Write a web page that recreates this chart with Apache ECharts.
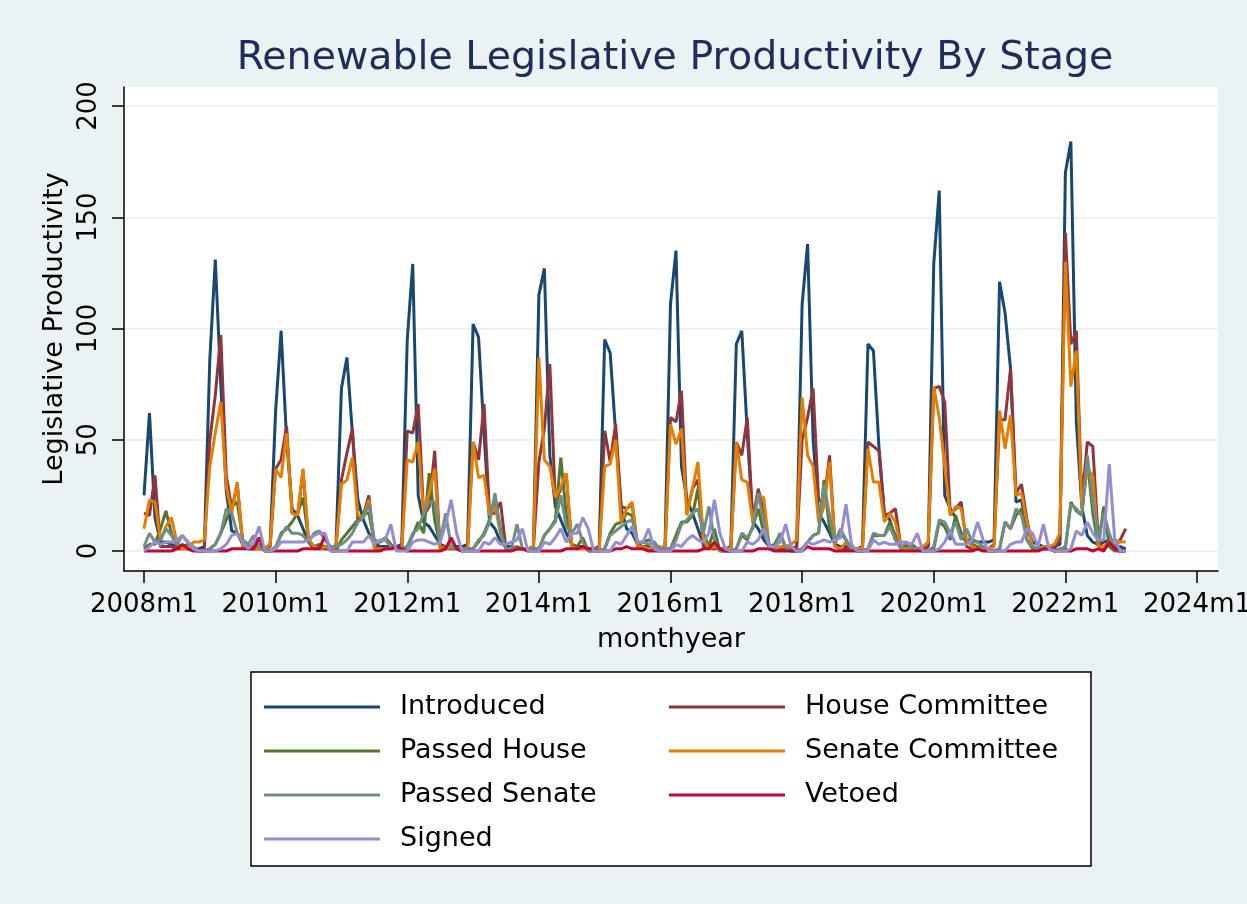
<!DOCTYPE html>
<html>
<head>
<meta charset="utf-8">
<title>Renewable Legislative Productivity By Stage</title>
<script src="https://cdn.jsdelivr.net/npm/echarts@6/dist/echarts.min.js"></script>
<style>
  html, body { margin: 0; padding: 0; background: #eaf2f3; }
  #chart { width: 1247px; height: 904px; }
</style>
</head>
<body>
<div id="chart"></div>
<script>
// Monthly counts, 2008m1 .. 2022m12 (12 values per row = one year)
const xTickValues = [0, 24, 48, 72, 96, 120, 144, 168, 192];   // months since 2008m1
const xTickLabels = ['2008m1', '2010m1', '2012m1', '2014m1', '2016m1', '2018m1', '2020m1', '2022m1', '2024m1'];
const yTickValues = [0, 50, 100, 150, 200];

const introduced = [
  25, 62, 15, 4, 4, 3, 2, 2, 1, 1, 1, 2,
  86, 131, 75, 27, 9, 8, 3, 1, 1, 1, 1, 3,
  63, 99, 50, 19, 16, 10, 4, 2, 2, 1, 1, 2,
  73, 87, 53, 23, 14, 8, 4, 2, 2, 2, 2, 3,
  95, 129, 25, 13, 11, 7, 3, 2, 2, 2, 2, 3,
  102, 96, 53, 13, 10, 4, 2, 2, 1, 1, 1, 2,
  115, 127, 43, 20, 14, 8, 3, 2, 2, 1, 1, 2,
  95, 89, 53, 19, 10, 8, 3, 2, 2, 1, 1, 2,
  111, 135, 38, 23, 17, 10, 3, 2, 2, 1, 1, 2,
  93, 99, 53, 13, 10, 5, 2, 2, 1, 1, 1, 2,
  111, 138, 50, 17, 13, 8, 3, 2, 2, 1, 1, 2,
  93, 90, 47, 17, 14, 5, 2, 2, 1, 1, 1, 2,
  129, 162, 25, 19, 15, 8, 5, 5, 4, 4, 4, 5,
  121, 107, 82, 22, 23, 10, 4, 3, 2, 2, 2, 3,
  170, 184, 58, 20, 7, 4, 3, 4, 5, 2, 2, 1
];

const houseCommittee = [
  17, 16, 34, 2, 2, 2, 1, 1, 1, 1, 0, 1,
  50, 70, 97, 34, 19, 30, 4, 1, 1, 1, 1, 2,
  37, 41, 56, 17, 16, 36, 4, 1, 1, 1, 1, 1,
  32, 44, 55, 14, 16, 25, 2, 1, 1, 2, 2, 1,
  54, 53, 66, 16, 20, 45, 1, 1, 1, 1, 1, 1,
  49, 41, 66, 17, 17, 22, 1, 1, 1, 1, 1, 1,
  40, 55, 84, 22, 28, 34, 2, 1, 1, 1, 1, 1,
  54, 40, 57, 20, 19, 21, 2, 1, 1, 1, 1, 1,
  60, 58, 72, 17, 28, 32, 2, 1, 1, 1, 1, 1,
  49, 43, 60, 14, 28, 17, 2, 1, 1, 1, 1, 1,
  50, 60, 73, 23, 22, 43, 2, 1, 1, 1, 1, 1,
  49, 47, 45, 16, 17, 19, 2, 1, 1, 1, 1, 2,
  73, 74, 67, 17, 19, 22, 2, 1, 1, 1, 1, 3,
  59, 59, 82, 26, 30, 14, 2, 1, 1, 1, 1, 5,
  143, 93, 99, 22, 49, 47, 5, 1, 5, 2, 5, 10
];

const passedHouse = [
  1, 3, 3, 10, 18, 8, 2, 2, 3, 1, 0, 0,
  1, 3, 8, 14, 20, 22, 5, 2, 2, 3, 1, 0,
  1, 8, 10, 13, 17, 24, 5, 2, 3, 2, 1, 0,
  5, 8, 11, 14, 17, 17, 4, 4, 6, 3, 1, 1,
  2, 7, 13, 8, 35, 14, 2, 2, 1, 1, 1, 1,
  1, 4, 8, 14, 24, 10, 1, 1, 2, 1, 1, 1,
  1, 7, 10, 14, 42, 16, 3, 2, 6, 0, 0, 0,
  1, 8, 12, 13, 17, 16, 3, 4, 5, 4, 1, 1,
  1, 7, 13, 13, 16, 28, 8, 2, 10, 0, 0, 0,
  1, 7, 5, 11, 19, 8, 2, 3, 8, 1, 0, 0,
  1, 4, 7, 8, 32, 10, 4, 8, 5, 1, 0, 0,
  1, 7, 7, 7, 13, 7, 1, 1, 3, 1, 0, 0,
  1, 13, 11, 5, 16, 7, 4, 3, 2, 1, 0, 0,
  1, 13, 10, 16, 19, 5, 1, 1, 1, 1, 0, 1,
  1, 22, 18, 16, 41, 17, 2, 20, 2, 0, 0, 0
];

const senateCommittee = [
  10, 23, 22, 5, 11, 15, 4, 1, 1, 4, 4, 5,
  38, 53, 67, 29, 17, 31, 2, 1, 1, 1, 1, 3,
  37, 33, 53, 17, 16, 37, 5, 2, 1, 2, 1, 2,
  30, 32, 42, 16, 15, 23, 1, 1, 1, 1, 1, 1,
  41, 40, 49, 16, 26, 37, 1, 1, 2, 1, 1, 1,
  49, 33, 34, 16, 20, 8, 1, 1, 1, 1, 1, 2,
  87, 41, 38, 24, 29, 35, 2, 1, 1, 1, 1, 1,
  38, 39, 50, 13, 19, 22, 2, 2, 1, 2, 2, 1,
  57, 48, 55, 16, 28, 40, 5, 1, 2, 1, 1, 1,
  49, 32, 31, 13, 25, 24, 2, 1, 2, 2, 3, 5,
  69, 43, 38, 13, 20, 40, 2, 1, 4, 1, 1, 1,
  46, 31, 31, 13, 17, 13, 2, 1, 1, 1, 2, 4,
  74, 60, 38, 16, 20, 19, 5, 2, 1, 1, 1, 2,
  63, 46, 61, 25, 26, 13, 2, 1, 2, 2, 3, 8,
  130, 74, 90, 19, 37, 34, 2, 2, 4, 5, 4, 4
];

const passedSenate = [
  2, 8, 4, 5, 10, 7, 3, 7, 4, 2, 0, 0,
  1, 3, 8, 19, 17, 8, 5, 3, 7, 2, 0, 0,
  2, 7, 11, 8, 8, 7, 4, 8, 9, 5, 2, 2,
  3, 5, 8, 13, 15, 21, 5, 4, 5, 2, 1, 1,
  2, 8, 10, 17, 22, 22, 4, 17, 2, 1, 0, 1,
  1, 5, 7, 13, 26, 8, 1, 1, 12, 1, 1, 1,
  1, 7, 10, 13, 25, 11, 8, 12, 4, 0, 0, 0,
  1, 7, 9, 11, 13, 14, 4, 4, 3, 4, 1, 1,
  1, 5, 12, 14, 17, 19, 8, 20, 5, 0, 0, 0,
  1, 8, 6, 10, 26, 13, 3, 1, 8, 2, 0, 0,
  1, 4, 7, 8, 30, 16, 4, 10, 5, 1, 0, 0,
  1, 8, 7, 7, 11, 5, 1, 4, 1, 1, 0, 0,
  2, 14, 13, 8, 13, 5, 10, 4, 4, 2, 0, 0,
  1, 13, 10, 19, 16, 5, 2, 1, 1, 1, 0, 1,
  2, 21, 19, 16, 43, 23, 5, 17, 8, 1, 0, 0
];

const vetoed = [
  0, 0, 0, 0, 0, 0, 1, 3, 1, 0, 0, 0,
  0, 0, 0, 0, 1, 1, 1, 1, 1, 6, 0, 0,
  0, 0, 0, 0, 0, 1, 1, 1, 1, 7, 0, 0,
  0, 0, 0, 0, 0, 0, 0, 0, 1, 1, 2, 1,
  0, 0, 0, 0, 0, 0, 0, 1, 6, 1, 0, 0,
  0, 0, 0, 0, 0, 0, 0, 0, 1, 1, 0, 0,
  0, 0, 0, 0, 0, 1, 1, 1, 2, 1, 1, 0,
  0, 0, 1, 1, 2, 1, 1, 1, 0, 0, 0, 0,
  0, 0, 0, 0, 0, 0, 1, 1, 4, 1, 0, 0,
  0, 0, 0, 0, 1, 1, 1, 0, 0, 0, 0, 0,
  0, 2, 1, 1, 1, 1, 0, 0, 0, 0, 0, 0,
  0, 0, 0, 0, 0, 0, 0, 0, 0, 0, 0, 0,
  0, 0, 0, 0, 0, 0, 0, 0, 1, 0, 0, 0,
  0, 0, 0, 0, 0, 0, 0, 0, 1, 1, 0, 0,
  0, 0, 1, 1, 1, 0, 1, 0, 4, 1, 0, 0
];

const signed = [
  0, 2, 4, 3, 4, 4, 5, 7, 4, 1, 0, 0,
  0, 0, 1, 3, 7, 8, 4, 1, 4, 11, 0, 0,
  1, 4, 4, 4, 4, 4, 5, 7, 8, 8, 0, 0,
  0, 0, 4, 4, 4, 7, 3, 5, 5, 12, 0, 0,
  0, 4, 5, 5, 4, 3, 4, 12, 23, 8, 0, 0,
  0, 0, 4, 3, 6, 3, 3, 4, 5, 10, 0, 0,
  0, 4, 3, 6, 10, 4, 8, 8, 15, 10, 0, 0,
  0, 0, 4, 3, 7, 11, 4, 4, 10, 1, 0, 0,
  0, 3, 2, 5, 7, 5, 4, 8, 23, 8, 1, 0,
  0, 0, 4, 3, 5, 10, 2, 2, 4, 12, 2, 0,
  0, 4, 3, 4, 5, 4, 5, 6, 21, 3, 0, 0,
  0, 5, 3, 4, 3, 3, 4, 4, 3, 8, 0, 0,
  0, 1, 4, 9, 3, 3, 3, 5, 13, 5, 0, 0,
  0, 0, 3, 4, 4, 10, 8, 2, 12, 1, 0, 0,
  0, 1, 9, 7, 13, 8, 5, 5, 39, 5, 0, 0
];

const seriesNames = ['Introduced', 'House Committee', 'Passed House', 'Senate Committee',
                     'Passed Senate', 'Vetoed', 'Signed'];
const seriesValues = [introduced, houseCommittee, passedHouse, senateCommittee,
                      passedSenate, vetoed, signed];
const seriesColors = ['#1a476f', '#90353b', '#55752f', '#e37e00', '#6e8e84', '#c10534', '#938dd2'];

const FONT = 'DejaVu Sans';

// Plot region in pixels and where the first/last ticks sit inside it
const region = { left: 124, top: 87, width: 1094, height: 484 };
const xFirstPx = 144, xLastPx = 1197;   // 2008m1 .. 2024m1
const yZeroPx = 551, yTopPx = 106;      // 0 .. 200

const xFirst = xTickValues[0], xLast = xTickValues[xTickValues.length - 1];
const yFirst = yTickValues[0], yLast = yTickValues[yTickValues.length - 1];
const pxPerMonth = (xLastPx - xFirstPx) / (xLast - xFirst);
const pxPerUnit = (yZeroPx - yTopPx) / (yLast - yFirst);
const xMin = xFirst - (xFirstPx - region.left) / pxPerMonth;
const xMax = xLast + (region.left + region.width - xLastPx) / pxPerMonth;
const yMin = yFirst - (region.top + region.height - yZeroPx) / pxPerUnit;
const yMax = yLast + (yTopPx - region.top) / pxPerUnit;

const chart = echarts.init(document.getElementById('chart'), null, { renderer: 'canvas' });

const hidden = { show: false };

const option = {
  backgroundColor: '#eaf2f3',
  animation: false,
  title: {
    text: 'Renewable Legislative Productivity By Stage',
    left: 670,
    top: 34,
    textAlign: 'center',
    textStyle: { fontFamily: FONT, fontSize: 39.5, fontWeight: 'normal', color: '#1e2d5a' }
  },
  grid: [
    // plot region: white box, axes on its left and bottom edges
    { left: region.left, top: region.top, width: region.width, height: region.height,
      show: true, backgroundColor: '#ffffff', borderWidth: 0, outerBoundsMode: 'none', containLabel: false },
    // horizontal gridlines across the plot region, 0..200
    { left: region.left, top: yTopPx, width: region.width, height: yZeroPx - yTopPx,
      outerBoundsMode: 'none', containLabel: false }
  ],
  xAxis: [
    { gridIndex: 0, type: 'value', min: xMin, max: xMax, position: 'bottom',
      axisLine: { show: true, onZero: false, lineStyle: { color: '#000', width: 1.5 } },
      axisTick: { show: true, length: 12, customValues: xTickValues, lineStyle: { color: '#000', width: 1.5 } },
      axisLabel: {
        customValues: xTickValues, margin: 21, fontFamily: FONT, fontSize: 26, color: '#000',
        formatter: v => xTickLabels[xTickValues.indexOf(Math.round(v))]
      },
      splitLine: hidden,
      name: 'monthyear', nameLocation: 'middle', nameGap: 55,
      nameTextStyle: { fontFamily: FONT, fontSize: 27, color: '#000' }
    },
    { gridIndex: 1, type: 'value', min: 0, max: 1, show: false }
  ],
  yAxis: [
    { gridIndex: 0, type: 'value', min: yMin, max: yMax, position: 'left',
      axisLine: { show: true, onZero: false, lineStyle: { color: '#000', width: 1.5 } },
      axisTick: { show: true, length: 12, customValues: yTickValues, lineStyle: { color: '#000', width: 1.5 } },
      axisLabel: {
        customValues: yTickValues, rotate: 90, margin: 22, fontFamily: FONT, fontSize: 26, color: '#000',
        formatter: v => String(Math.round(v))
      },
      splitLine: hidden,
      name: 'Legislative Productivity', nameLocation: 'middle', nameRotate: 90, nameGap: 56,
      nameTextStyle: { fontFamily: FONT, fontSize: 27, color: '#000' }
    },
    { gridIndex: 1, type: 'value', min: 0, max: 200, interval: 50,
      axisLine: hidden, axisTick: hidden, axisLabel: hidden,
      splitLine: { show: true, lineStyle: { color: '#eaf2f3', width: 2 } } }
  ],
  legend: [
    { data: ['Introduced', 'Passed House', 'Passed Senate', 'Signed'],
      orient: 'vertical', left: 259, top: 687, itemGap: 14,
      icon: 'rect', itemWidth: 116, itemHeight: 3, z: 5,
      textStyle: { fontFamily: FONT, fontSize: 27, color: '#000', lineHeight: 30, padding: [0, 0, 0, 15] } },
    { data: ['House Committee', 'Senate Committee', 'Vetoed'],
      orient: 'vertical', left: 664, top: 687, itemGap: 14,
      icon: 'rect', itemWidth: 116, itemHeight: 3, z: 5,
      textStyle: { fontFamily: FONT, fontSize: 27, color: '#000', lineHeight: 30, padding: [0, 0, 0, 15] } }
  ],
  graphic: [
    { type: 'rect', z: 1, shape: { x: 251, y: 672, width: 840, height: 194 },
      style: { fill: '#ffffff', stroke: '#000000', lineWidth: 1.5 } }
  ],
  series: seriesNames.map((name, k) => ({
    name,
    type: 'line',
    xAxisIndex: 0,
    yAxisIndex: 0,
    data: seriesValues[k].map((v, i) => [i, v]),
    showSymbol: false,
    symbol: 'none',
    color: seriesColors[k],
    lineStyle: { width: 3, color: seriesColors[k] },
    z: 2 + k * 0.01
  }))
};

chart.setOption(option);
</script>
</body>
</html>
